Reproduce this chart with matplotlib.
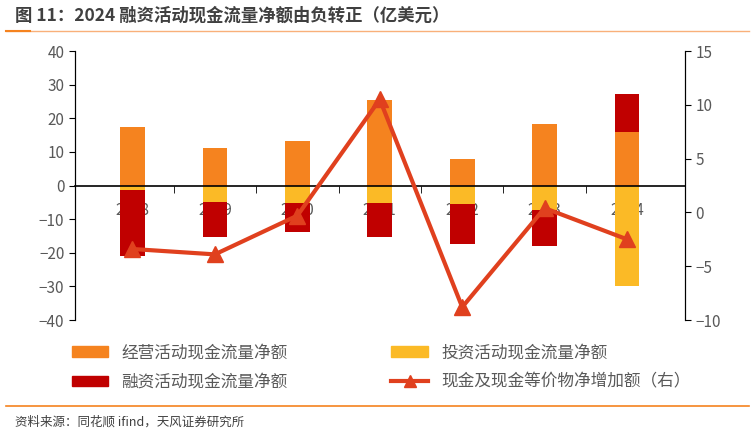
import numpy as np
import matplotlib.pyplot as plt
from matplotlib.lines import Line2D
from matplotlib.patches import Patch

plt.rcParams['font.family'] = ['Noto Sans CJK SC', 'DejaVu Sans']

years = ['2018', '2019', '2020', '2021', '2022', '2023', '2024']
operating = [17.3, 11.1, 13.3, 25.4, 7.9, 18.3, 16.0]
investing = [-1.3, -5.0, -5.3, -5.3, -5.5, -7.2, -29.9]
financing = [-19.6, -10.2, -8.6, -9.9, -12.0, -10.7, 11.2]
net_change = [-3.4, -3.9, -0.3, 10.5, -8.8, 0.4, -2.5]

c_op, c_inv, c_fin, c_line = '#F5831F', '#FBBA26', '#C00000', '#E0401E'
grey = '#595959'

fig = plt.figure(figsize=(7.55, 4.36), dpi=100)
ax = fig.add_axes([0.099, 0.266, 0.808, 0.617])
x = np.arange(len(years))
w = 0.3

# stack: positive parts above zero, negative below
pos_base = np.zeros(len(x))
neg_base = np.zeros(len(x))
for vals, col in [(operating, c_op), (investing, c_inv), (financing, c_fin)]:
    v = np.array(vals)
    bottoms = np.where(v >= 0, pos_base, neg_base)
    ax.bar(x, v, w, bottom=bottoms, color=col, edgecolor='none', zorder=2)
    pos_base = pos_base + np.where(v >= 0, v, 0)
    neg_base = neg_base + np.where(v < 0, v, 0)

ax.set_ylim(-40, 40)
ax.set_yticks(range(-40, 41, 10))
ax.set_xlim(-0.7, len(x) - 0.3)
ax.spines['top'].set_visible(False)
ax.spines['bottom'].set_position(('data', 0))
ax.spines['bottom'].set_linewidth(1.2)
ax.set_xticks(x)
ax.set_xticklabels(years)
ax.set_xticks(np.arange(-0.5, len(x) - 0.5, 1.0)[1:], minor=True)
ax.tick_params(axis='x', which='major', length=0, pad=12, labelsize=11, labelcolor=grey)
ax.tick_params(axis='x', which='minor', length=5, direction='out')
ax.tick_params(axis='y', labelsize=11, labelcolor=grey, length=4)

ax2 = ax.twinx()
ax2.plot(x, net_change, color=c_line, lw=3, marker='^', ms=11, zorder=5)
ax2.set_ylim(-10, 15)
ax2.set_yticks(range(-10, 16, 5))
ax2.tick_params(axis='y', labelsize=11, labelcolor=grey, length=4)
ax2.spines['top'].set_visible(False)
ax2.spines['bottom'].set_visible(False)

handles = [Patch(color=c_op), Patch(color=c_fin), Patch(color=c_inv),
           Line2D([], [], color=c_line, lw=3, marker='^', ms=8)]
labels = ['经营活动现金流量净额', '融资活动现金流量净额', '投资活动现金流量净额', '现金及现金等价物净增加额（右）']
fig.legend(handles, labels, loc='upper left', bbox_to_anchor=(0.075, 0.245), ncol=2,
           frameon=False, fontsize=12, handlelength=2.2, handleheight=0.6,
           columnspacing=6.2, labelspacing=0.75, labelcolor=grey)

fig.text(0.02, 0.965, '图 11：2024 融资活动现金流量净额由负转正（亿美元）', fontsize=12.5,
         fontweight='bold', color='#404040', va='center')
fig.add_artist(Line2D([0.008, 0.992], [0.93, 0.93], color='#F9B07A', lw=1))
fig.add_artist(Line2D([0.008, 0.04], [0.93, 0.93], color=c_op, lw=1.5))
fig.add_artist(Line2D([0.008, 0.992], [0.068, 0.068], color=c_op, lw=1.2))
fig.text(0.02, 0.033, '资料来源：同花顺 ifind，天风证券研究所', fontsize=9, color='#404040', va='center')

fig.savefig('out.png', dpi=100)
